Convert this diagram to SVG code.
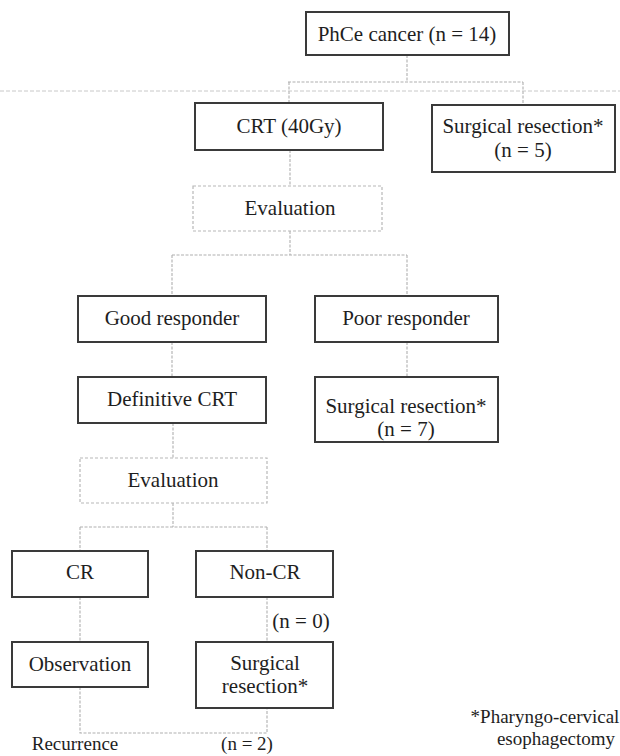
<svg xmlns="http://www.w3.org/2000/svg" width="620" height="756" viewBox="0 0 620 756">
<style>
  .box { fill: #ffffff; stroke: #3a3a3a; stroke-width: 2; }
  .dbox { fill: #ffffff; stroke: #b8b8b8; stroke-width: 1.2; stroke-dasharray: 3 2; }
  .con { fill: none; stroke: #b0b0b0; stroke-width: 1.1; stroke-dasharray: 3 1.5; }
  .faint { fill: none; stroke: #c8c8c8; stroke-width: 1; stroke-dasharray: 4 2; }
  .t { font-family: 'Liberation Serif', 'Times New Roman', 'DejaVu Serif', serif; font-size: 21px; fill: #1e1e1e; text-anchor: middle; }
  .s { font-size: 19px; }
</style>
<rect width="620" height="756" fill="#ffffff"/>
<g id="connectors">
  <path class="con" d="M407 55 V82 M288 82 H523 M289 82 V103 M523 82 V105"/>
  <path class="faint" d="M0 91 H620"/>
  <path class="con" d="M290 150 V186"/>
  <path class="con" d="M290 231 V255 M172 255 H407 M172 255 V296 M407 255 V296"/>
  <path class="con" d="M172 342 V377"/>
  <path class="con" d="M407 342 V377"/>
  <path class="con" d="M173 423 V458"/>
  <path class="con" d="M173 503 V527 M80 527 H267 M80 527 V551 M267 527 V551"/>
  <path class="con" d="M80 597 V642"/>
  <path class="con" d="M267 597 V642"/>
  <path class="con" d="M80 687 V733 H267 V708"/>
</g>
<g id="phce">
  <rect class="box" x="306" y="12" width="203" height="43"/>
  <text class="t" x="407" y="41">PhCe cancer (n = 14)</text>
</g>
<g id="crt40">
  <rect class="box" x="195" y="103" width="188" height="47"/>
  <text class="t" x="289" y="133">CRT (40Gy)</text>
</g>
<g id="surg5">
  <rect class="box" x="432" y="105" width="183" height="67"/>
  <text class="t" x="523" y="133">Surgical resection*</text>
  <text class="t" x="523" y="157">(n = 5)</text>
</g>
<g id="eval1">
  <rect class="dbox" x="193" y="186" width="189" height="45"/>
  <text class="t" x="290" y="215">Evaluation</text>
</g>
<g id="good">
  <rect class="box" x="78" y="296" width="188" height="46"/>
  <text class="t" x="172" y="325">Good responder</text>
</g>
<g id="poor">
  <rect class="box" x="315" y="296" width="183" height="46"/>
  <text class="t" x="406" y="325">Poor responder</text>
</g>
<g id="defcrt">
  <rect class="box" x="78" y="377" width="188" height="46"/>
  <text class="t" x="172" y="406">Definitive CRT</text>
</g>
<g id="surg7">
  <rect class="box" x="315" y="377" width="183" height="65"/>
  <text class="t" x="406" y="413">Surgical resection*</text>
  <text class="t" x="406" y="436">(n = 7)</text>
</g>
<g id="eval2">
  <rect class="dbox" x="80" y="458" width="187" height="45"/>
  <text class="t" x="173" y="487">Evaluation</text>
</g>
<g id="cr">
  <rect class="box" x="12" y="551" width="136" height="46"/>
  <text class="t" x="80" y="579">CR</text>
</g>
<g id="noncr">
  <rect class="box" x="196" y="551" width="137" height="46"/>
  <text class="t" x="265" y="579">Non-CR</text>
</g>
<g id="n0">
  <text class="t" x="301" y="628">(n = 0)</text>
</g>
<g id="observation">
  <rect class="box" x="12" y="642" width="136" height="45"/>
  <text class="t" x="80" y="671">Observation</text>
</g>
<g id="surg0">
  <rect class="box" x="196" y="642" width="137" height="66"/>
  <text class="t" x="265" y="670">Surgical</text>
  <text class="t" x="265" y="693">resection*</text>
</g>
<g id="recurrence">
  <text class="t s" x="75" y="750">Recurrence</text>
  <text class="t s" x="247" y="750">(n = 2)</text>
</g>
<g id="footnote">
  <text class="t s" x="545" y="723">*Pharyngo-cervical</text>
  <text class="t s" x="556" y="745">esophagectomy</text>
</g>
</svg>
